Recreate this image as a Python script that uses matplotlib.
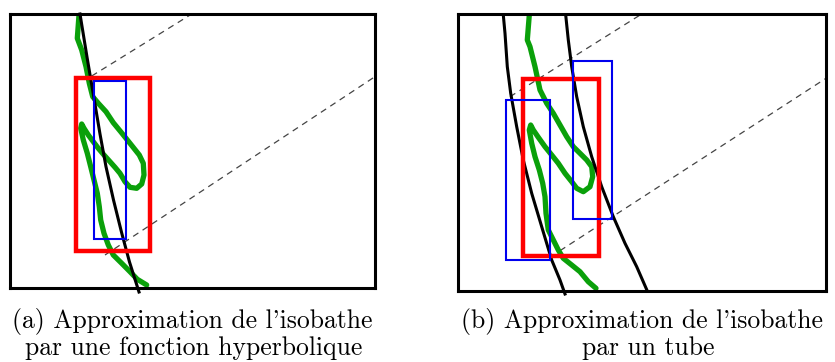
import matplotlib.pyplot as plt
from matplotlib.patches import Rectangle

# unités : pixels depuis le coin haut-gauche de chaque cadre
largeur_a, hauteur_a = 365, 274
largeur_b, hauteur_b = 368, 277

# (a) fonction hyperbolique
hyper_x = [70, 77, 84.3, 90, 96, 103.5, 111.7, 119.5, 129]
hyper_y = [0, 43, 86, 120, 152.7, 186, 219, 248, 278]

iso_a_x = [69, 67.3, 71.7, 76, 79.3, 82.7, 88.3, 96, 103.3, 110.7, 116, 122.7, 129.3, 133.3,
           134, 131.7, 126.7, 120, 115, 110, 105, 100, 94, 88.3, 83.3, 78.3, 74, 71.7,
           70.7, 73.3, 77.3, 80.7, 84, 87.3, 89.3, 90.7, 94, 98.3, 103.3, 111.7, 120, 127.3, 136.7]
iso_a_y = [1, 24.3, 36, 52.7, 69.3, 82.7, 89.3, 97.7, 108.7, 117.7, 124.3, 132.7, 141, 149.3,
           161, 170, 174.3, 173.3, 167.7, 159.3, 153.3, 147.7, 141, 134.3, 127.7, 121, 114.3, 110,
           114.3, 126, 139.3, 152.7, 166, 179.3, 192.7, 206, 219.3, 231, 241, 249.3, 257.7, 265.3, 271]

rouge_a = (66, 64.3, 140, 236.7)      # x0, y0, x1, y1
bleu_a = [(84.3, 66.7, 115.7, 225.3)]
tirets_a = [((81.7, 181.7), (62, 0)), ((95, 364), (241, 63.3))]

# (b) tube
tube_g_x = [45.6, 47.3, 49.6, 53, 59, 65.6, 74, 84, 94, 102.3, 107.3]
tube_g_y = [1, 19.3, 52.7, 79.3, 112.7, 146, 179.3, 212.7, 246, 266, 280]
tube_d_x = [108, 110.6, 114, 119, 125.6, 134, 144, 155.6, 167.3, 179, 189.6]
tube_d_y = [1, 26, 52.7, 82.7, 112.7, 142.7, 172.7, 202.7, 229.3, 252.7, 277]

iso_b_x = [71.6, 69.6, 72.3, 77.3, 82.3, 89, 95.6, 102.3, 109, 115.6, 122.3, 129, 134, 135,
           132.3, 125.6, 119, 114, 107.3, 100.6, 94, 87.3, 80.6, 75.6, 73, 71.6,
           74, 77.3, 81.6, 85, 87.3, 88.3, 90.6, 95.6, 100.6, 105.6, 114, 122.3, 130.6, 138.3]
iso_b_y = [1, 26, 32.7, 52.7, 76, 89.3, 99.3, 111, 122.7, 132.7, 139.3, 146, 152.7, 162.7,
           172.7, 177.7, 174.3, 167.7, 159.3, 149.3, 141, 132.7, 123.3, 116, 111, 116,
           129.3, 142.7, 156, 169.3, 182.7, 199.3, 216, 226, 236, 244.3, 251, 257.7, 267.7, 274.3]

rouge_b = (65.6, 65, 141.6, 241.7)
bleu_b = [(48.3, 86, 92.3, 246), (115.6, 47, 154.6, 205.3)]
tirets_b = [((52.3, 184), (82.7, 0)), ((102.3, 368.3), (236.7, 64.3))]

vert = '#0aa00a'

fig = plt.figure(figsize=(8.35, 3.62), dpi=100)


def cadre(left, top, w, h):
    ax = fig.add_axes([left / 835, 1 - (top + h) / 362, w / 835, h / 362])
    ax.set_xlim(0, w)
    ax.set_ylim(h, 0)
    ax.set_xticks([])
    ax.set_yticks([])
    for s in ax.spines.values():
        s.set_linewidth(2.2)
        s.set_zorder(10)
    return ax


def boite(ax, r, couleur, lw):
    ax.add_patch(Rectangle((r[0], r[1]), r[2] - r[0], r[3] - r[1], fill=False,
                           edgecolor=couleur, linewidth=lw, zorder=5))


def dessin(ax, rouge, bleus, tirets, iso_x, iso_y):
    for tx, ty in tirets:
        ax.plot(tx, ty, color='#444444', lw=0.9, dashes=(5, 4), zorder=1)
    ax.plot(iso_x, iso_y, color=vert, lw=3.8, solid_joinstyle='round',
            solid_capstyle='round', zorder=3)
    boite(ax, rouge, '#ff0000', 3.2)
    for b in bleus:
        boite(ax, b, '#0000ee', 1.5)


ax1 = cadre(10, 14, largeur_a, hauteur_a)
dessin(ax1, rouge_a, bleu_a, tirets_a, iso_a_x, iso_a_y)
ax1.plot(hyper_x, hyper_y, color='black', lw=2.2, zorder=4, clip_on=False)

ax2 = cadre(457.7, 14, largeur_b, hauteur_b)
dessin(ax2, rouge_b, bleu_b, tirets_b, iso_b_x, iso_b_y)
ax2.plot(tube_g_x, tube_g_y, color='black', lw=2.2, zorder=4, clip_on=False)
ax2.plot(tube_d_x, tube_d_y, color='black', lw=2.2, zorder=4, clip_on=False)

police = dict(family=['cmr10', 'DejaVu Serif'], fontsize=18.5, ha='center', va='baseline')
fig.text(192 / 835, 1 - 328 / 362, "(a) Approximation de l'isobathe", **police)
fig.text(194 / 835, 1 - 355 / 362, "par une fonction hyperbolique", **police)
fig.text(642 / 835, 1 - 328 / 362, "(b) Approximation de l'isobathe", **police)
fig.text(648 / 835, 1 - 355 / 362, "par un tube", **police)

fig.savefig('out.png', dpi=100)
